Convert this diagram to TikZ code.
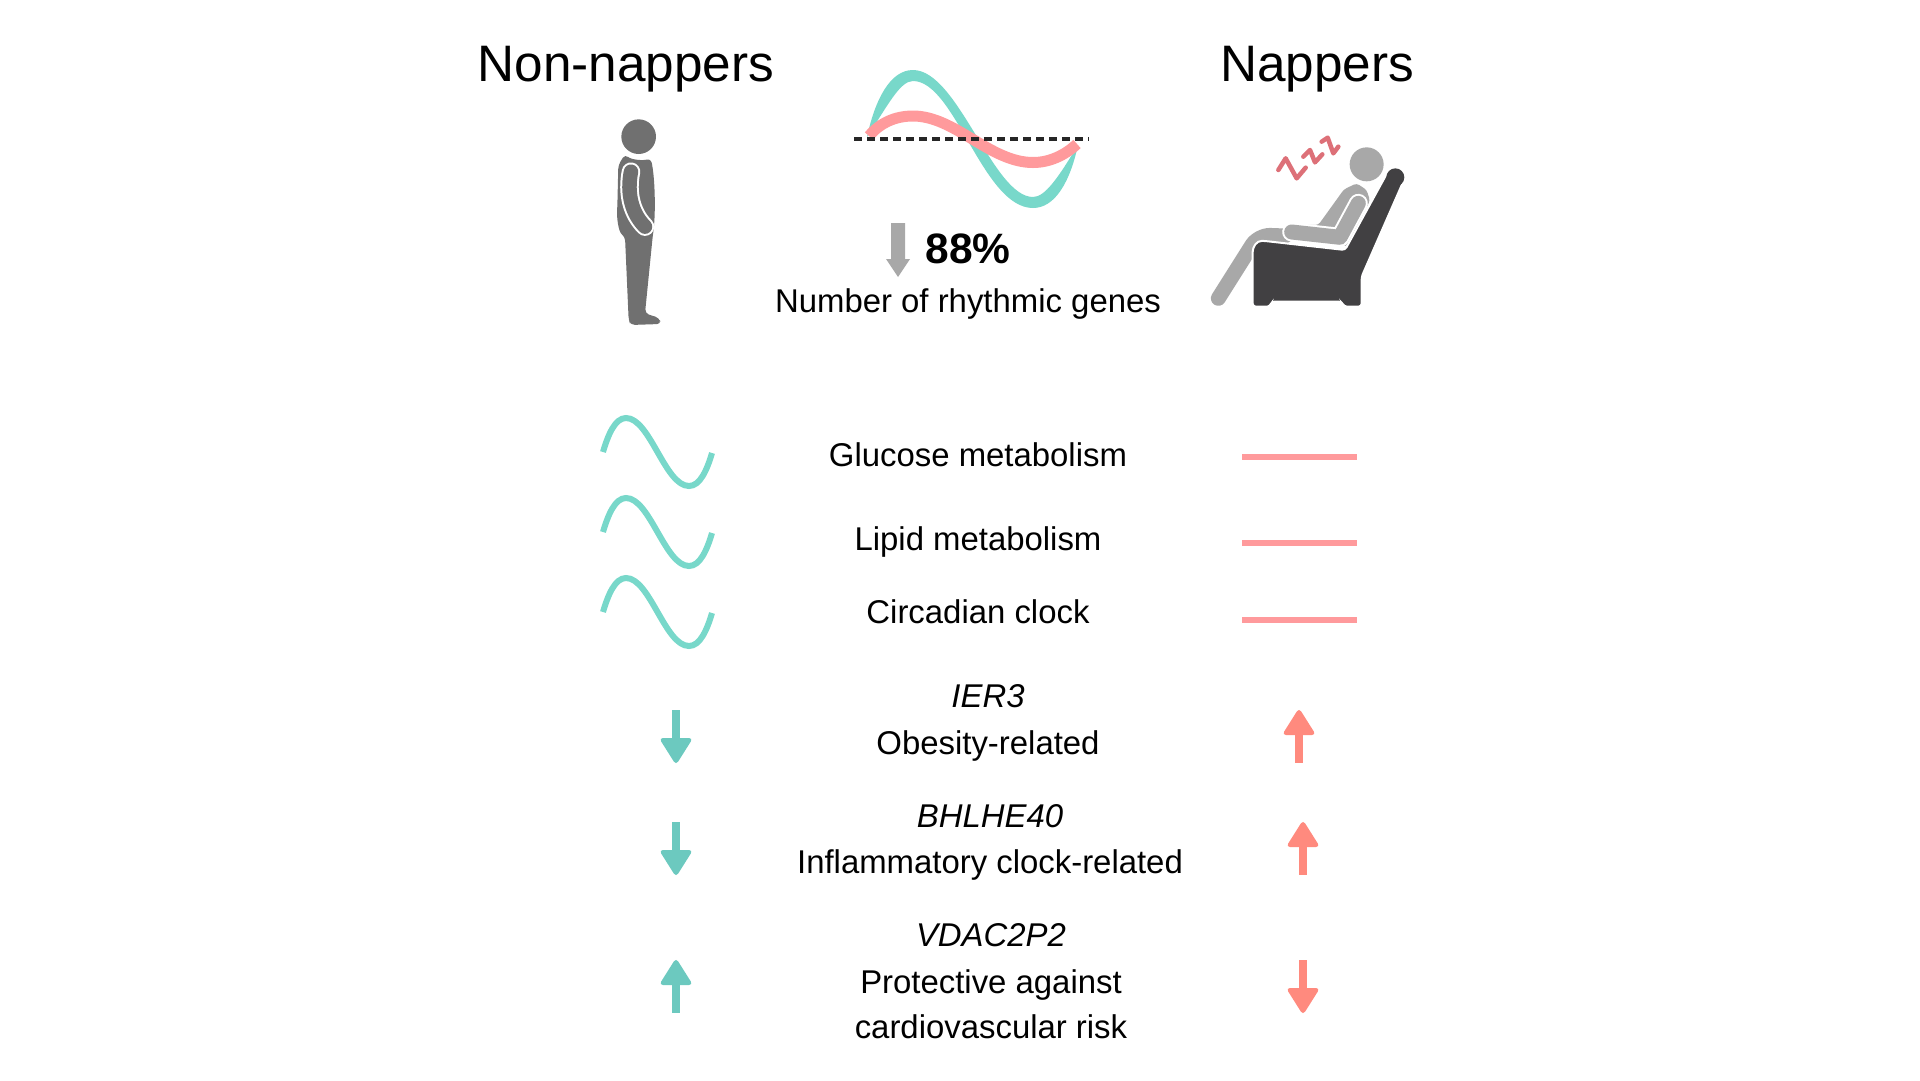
\documentclass[tikz,border=0pt]{standalone}
\usepackage{fontspec}
\setmainfont{Liberation Sans}
\definecolor{waveteal}{HTML}{78D8CA}
\definecolor{wavepink}{HTML}{FF9A9C}
\definecolor{arrteal}{HTML}{6CC9BF}
\definecolor{arrred}{HTML}{FF8A7E}
\definecolor{figdark}{HTML}{707070}
\definecolor{figlight}{HTML}{A8A8A8}
\definecolor{chairc}{HTML}{414042}
\definecolor{zzzc}{HTML}{DD7078}
\tikzset{
  title/.style={font=\fontsize{51.3}{58}\selectfont,anchor=base,inner sep=0pt},
  body/.style={font=\fontsize{32.9}{38}\selectfont,anchor=base,inner sep=0pt},
  gene/.style={font=\fontsize{32.9}{38}\selectfont\itshape,anchor=base,inner sep=0pt},
  thinwave/.style={draw=waveteal,line width=6pt},
  flatline/.style={draw=wavepink,line width=6pt},
  zoomA/.style={shift={(#1)},x=0.3333pt,y=-0.3333pt},
  zstroke/.style={draw=zzzc,line width=4.5pt,line join=round,line cap=round},
}
\newcommand{\vArrow}[4]{% x, tip y, direction (1 = up arrow, -1 = down arrow), colour
  \begin{scope}[shift={(#1,#2)},yscale=#3]
    \fill[#4,rounded corners=4pt] (0,-2) -- (17,25) -- (-17,25) -- cycle;
    \fill[#4] (-4,20) rectangle (4,53);
  \end{scope}}
\newcommand{\smallWave}[1]{%
  \draw[thinwave,shift={(0,#1)}] (603,452) .. controls (608,435) and (615,418) .. (626,418)
     .. controls (650,418) and (665,486) .. (689,486)
     .. controls (700,486) and (707,470) .. (712,453);}
\begin{document}
\begin{tikzpicture}[x=1pt,y=-1pt]
\useasboundingbox (0,0) rectangle (1920,1080);
\fill[white] (0,0) rectangle (1920,1080);

% titles
\node[title] (tnon) at (626,81) {Non-nappers};
\node[title] (tnap) at (1317,81) {Nappers};

% central wave
\fill[waveteal] (867,137) .. controls (875,100) and (890,70) .. (913,70)
  .. controls (958,70) and (993,197) .. (1033,197)
  .. controls (1045,197) and (1058,178) .. (1078,145)
  .. controls (1070,182) and (1055,208) .. (1033,208)
  .. controls (983,208) and (955,81) .. (913,81)
  .. controls (900,81) and (888,105) .. (867,137) -- cycle;
\draw[wavepink,line width=11pt] (869,136) .. controls (880,123) and (895,116) .. (913,116)
  .. controls (955,116) and (990,162.5) .. (1033,162.5)
  .. controls (1050,162.5) and (1065,155) .. (1077,144);
\draw[black!85,line width=3.5pt,dash pattern=on 7.5pt off 5.5pt] (854,139) -- (1089,139);

% grey arrow
\fill[figlight] (891,223) -- (905,223) -- (905,259) -- (910,259) -- (898,277) -- (886,259) -- (891,259) -- cycle;
\node[font=\fontsize{42.5}{48}\selectfont\bfseries,anchor=base,inner sep=0pt] (pct) at (968,263) {88\%};
\node[body] (nrg) at (968,312) {Number of rhythmic genes};

% standing figure
\begin{scope}[zoomA={560,100}]
  \fill[figdark] (236,110) circle (52);
  \fill[figdark,rounded corners=4pt] (195,163) .. controls (215,180) and (250,182) .. (272,175)
     .. controls (285,230) and (288,340) .. (278,410)
     -- (255,640) -- (298,654) -- (303,672) -- (212,675) -- (206,660) -- (195,410)
     .. controls (175,395) and (170,350) .. (172,320) -- (175,195) -- cycle;
  \draw[white,line width=18.5pt,line cap=round] (213,215) .. controls (200,280) and (215,340) .. (255,380);
  \draw[figdark,line width=14.5pt,line cap=round] (213,215) .. controls (200,280) and (215,340) .. (255,380);
\end{scope}

% sleeping figure
\begin{scope}[zoomA={1190,110}]
  \fill[figlight] (530,163) circle (51);
  \fill[figlight,rounded corners=3pt] (385,345) -- (462,238) -- (500,220) -- (530,240) -- (540,272) -- (470,410) -- (300,370) -- (330,345) -- cycle;
  \draw[figlight,line width=15pt,line cap=round,line join=round,rounded corners=12pt]
     (285,378) -- (205,375) -- (85,565);
  \fill[chairc,draw=white,line width=2pt,rounded corners=3pt]
     (591,190) -- (641,212)
     -- (515,500) -- (515,590) -- (462,590) -- (455,575) -- (245,575) -- (240,590) -- (188,590)
     -- (188,435) .. controls (188,410) and (200,392) .. (225,393)
     -- (465,420) -- cycle;
  \fill[chairc] (616,202) circle (27);
  \draw[white,line width=19pt,line cap=round,line join=round] (505,280) -- (450,382) -- (305,366);
  \draw[figlight,line width=15pt,line cap=round,line join=round] (505,280) -- (450,382) -- (305,366);
\end{scope}
\begin{scope}[zoomA={1265,125}]
  \draw[zstroke] (40,135) -- (62,100) -- (95,160) -- (122,128);
  \draw[zstroke] (115,95) -- (135,75) -- (150,112) -- (172,88);
  \draw[zstroke] (170,50) -- (188,38) -- (205,85) -- (220,65);
\end{scope}

% pathway rows
\smallWave{0}\smallWave{80}\smallWave{160}
\node[body] (glu) at (978,466) {Glucose metabolism};
\node[body] (lip) at (978,550) {Lipid metabolism};
\node[body] (cir) at (978,623) {Circadian clock};
\draw[flatline] (1242,457) -- (1357,457);
\draw[flatline] (1242,543) -- (1357,543);
\draw[flatline] (1242,620) -- (1357,620);

% genes
\node[gene] (g1) at (988,707) {IER3};
\node[body] (d1) at (988,754) {Obesity-related};
\node[gene] (g2) at (990,827) {BHLHE40};
\node[body] (d2) at (990,873) {Inflammatory clock-related};
\node[gene] (g3) at (991,946) {VDAC2P2};
\node[body] (d3) at (991,993) {Protective against};
\node[body] (d4) at (991,1038) {cardiovascular risk};

% arrows
\vArrow{676}{763}{-1}{arrteal}
\vArrow{676}{875}{-1}{arrteal}
\vArrow{676}{960}{1}{arrteal}
\vArrow{1299}{710}{1}{arrred}
\vArrow{1303}{822}{1}{arrred}
\vArrow{1303}{1013}{-1}{arrred}
\end{tikzpicture}
\end{document}
